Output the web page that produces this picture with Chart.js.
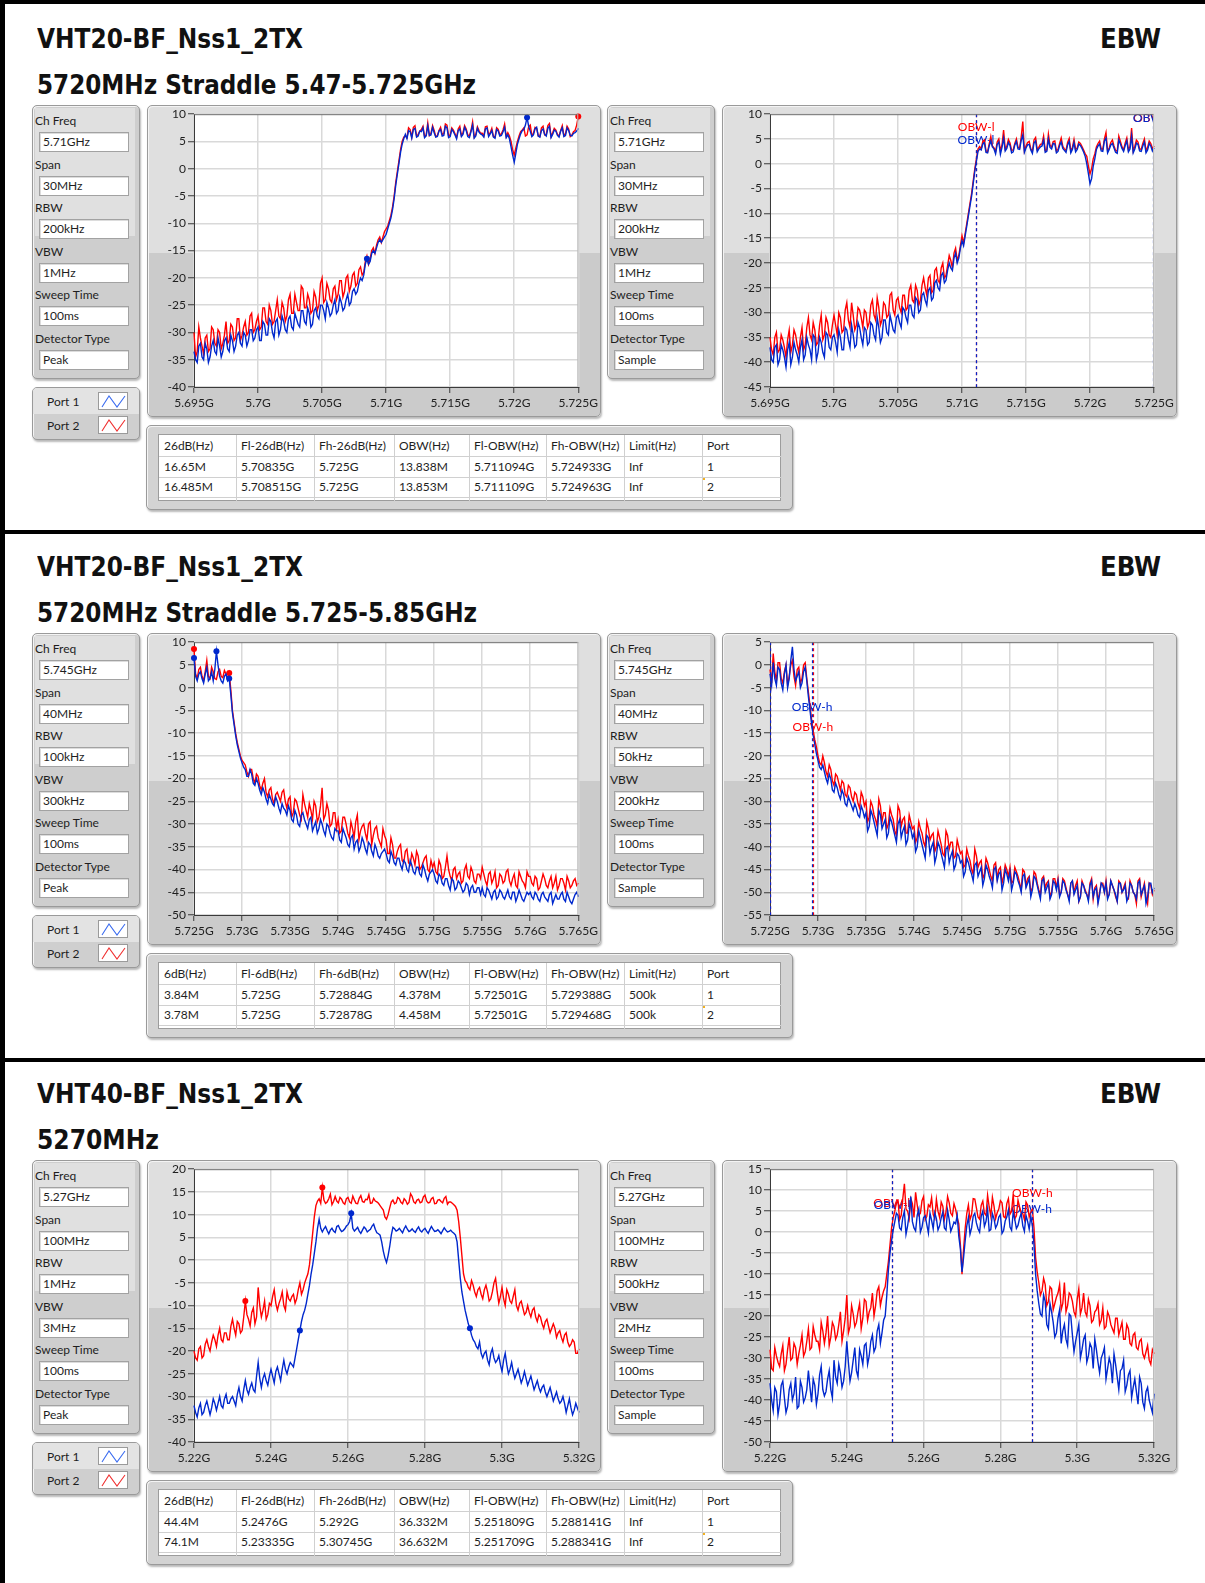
<!DOCTYPE html>
<html>
<head>
<meta charset="utf-8">
<title>EBW</title>
<script src="https://cdn.jsdelivr.net/npm/chart.js@4.4.1/dist/chart.umd.min.js"></script>
<style>
  html, body { margin: 0; padding: 0; background: #fff; }
  body { position: relative; width: 1205px; height: 1583px; overflow: hidden; font-family: Lato, "Liberation Sans", sans-serif; color: #1e1e1e; }
  .bar { position: absolute; background: #000; }
  .ttl { position: absolute; font-family: "DejaVu Sans Condensed", "DejaVu Sans", sans-serif; font-weight: bold; font-size: 27px; line-height: 27px; white-space: nowrap; transform-origin: 0 0; color: #111; }
  .panel { position: absolute; box-sizing: border-box; border: 1px solid #9a9a9a; border-radius: 5px; box-shadow: inset 1px 1px 0 #f4f4f4, 1px 2px 2px rgba(0,0,0,0.28); overflow: hidden; }
  .chartPanel { background: linear-gradient(#dfdfdf 0, #dfdfdf 147px, #cbcbcb 147px, #cbcbcb 100%); }
  .paramPanel { background: #cecece; }
  .lbl { position: absolute; font-size: 12px; line-height: 14px; white-space: nowrap; color: #1e1e1e; }
  .box { position: absolute; box-sizing: border-box; background: #fff; border: 1px solid #a2a2a2; box-shadow: inset 1px 1px 0 #dcdcdc; font-size: 12px; line-height: 18px; padding-left: 3px; white-space: nowrap; }
  .cell { position: absolute; font-size: 12px; line-height: 14px; white-space: nowrap; color: #1e1e1e; }
  .hl { position: absolute; height: 1px; background: #d0d0d0; }
  .vl { position: absolute; width: 1px; background: #d0d0d0; }
  canvas { position: absolute; }
</style>
</head>
<body>
<script>
// ---------- text content ----------
const sectionTitles = ["VHT20-BF_Nss1_2TX", "VHT20-BF_Nss1_2TX", "VHT40-BF_Nss1_2TX"];
const sectionSubtitles = ["5720MHz Straddle 5.47-5.725GHz", "5720MHz Straddle 5.725-5.85GHz", "5270MHz"];
const sectionTag = "EBW";

const paramNames = ["Ch Freq", "Span", "RBW", "VBW", "Sweep Time", "Detector Type"];
// [peak-detector panel, sample-detector panel] for each measurement
const paramValues = [
  [["5.71GHz", "30MHz", "200kHz", "1MHz", "100ms", "Peak"], ["5.71GHz", "30MHz", "200kHz", "1MHz", "100ms", "Sample"]],
  [["5.745GHz", "40MHz", "100kHz", "300kHz", "100ms", "Peak"], ["5.745GHz", "40MHz", "50kHz", "200kHz", "100ms", "Sample"]],
  [["5.27GHz", "100MHz", "1MHz", "3MHz", "100ms", "Peak"], ["5.27GHz", "100MHz", "500kHz", "2MHz", "100ms", "Sample"]]
];
const portNames = ["Port 1", "Port 2"];

const tableHeads = [
  ["26dB(Hz)", "Fl-26dB(Hz)", "Fh-26dB(Hz)", "OBW(Hz)", "Fl-OBW(Hz)", "Fh-OBW(Hz)", "Limit(Hz)", "Port"],
  ["6dB(Hz)", "Fl-6dB(Hz)", "Fh-6dB(Hz)", "OBW(Hz)", "Fl-OBW(Hz)", "Fh-OBW(Hz)", "Limit(Hz)", "Port"],
  ["26dB(Hz)", "Fl-26dB(Hz)", "Fh-26dB(Hz)", "OBW(Hz)", "Fl-OBW(Hz)", "Fh-OBW(Hz)", "Limit(Hz)", "Port"]
];
const tableRows = [
  [["16.65M", "5.70835G", "5.725G", "13.838M", "5.711094G", "5.724933G", "Inf", "1"],
   ["16.485M", "5.708515G", "5.725G", "13.853M", "5.711109G", "5.724963G", "Inf", "2"]],
  [["3.84M", "5.725G", "5.72884G", "4.378M", "5.72501G", "5.729388G", "500k", "1"],
   ["3.78M", "5.725G", "5.72878G", "4.458M", "5.72501G", "5.729468G", "500k", "2"]],
  [["44.4M", "5.2476G", "5.292G", "36.332M", "5.251809G", "5.288141G", "Inf", "1"],
   ["74.1M", "5.23335G", "5.30745G", "36.632M", "5.251709G", "5.288341G", "Inf", "2"]]
];

// ---------- OBW cursors (GHz), [port 1, port 2] ----------
const obwLow  = [[5.711094, 5.711109], [5.72501, 5.72501], [5.251809, 5.251709]];
const obwHigh = [[5.724933, 5.724963], [5.729388, 5.729468], [5.288141, 5.288341]];
// cursor label levels in dB, [port 1, port 2]
const obwLowLabelDb  = [[4.8, 7.4], [6.6, 6.6], [6.5, 7.0]];
const obwHighLabelDb = [[9.2, 9.2], [-9.2, -13.6], [5.6, 9.4]];

// ---------- sweep ranges (GHz) and ticks ----------
const sweepStart = [5.695, 5.725, 5.22];
const sweepStop  = [5.725, 5.765, 5.32];
const xTicks = [
  [5.695, 5.7, 5.705, 5.71, 5.715, 5.72, 5.725],
  [5.725, 5.73, 5.735, 5.74, 5.745, 5.75, 5.755, 5.76, 5.765],
  [5.22, 5.24, 5.26, 5.28, 5.3, 5.32]
];
const yTicksPeak = [
  [-40, -35, -30, -25, -20, -15, -10, -5, 0, 5, 10],
  [-50, -45, -40, -35, -30, -25, -20, -15, -10, -5, 0, 5, 10],
  [-40, -35, -30, -25, -20, -15, -10, -5, 0, 5, 10, 15, 20]
];
const yTicksSample = [
  [-45, -40, -35, -30, -25, -20, -15, -10, -5, 0, 5, 10],
  [-55, -50, -45, -40, -35, -30, -25, -20, -15, -10, -5, 0, 5],
  [-50, -45, -40, -35, -30, -25, -20, -15, -10, -5, 0, 5, 10, 15]
];

// ---------- traces (dBm) ----------
// Each sweep has 241 points: "...Even" holds points 0,2,4..240 and "...Odd" holds 1,3..239.
const sec1PeakP2Even = [-30.0,-33.5,-31.0,-34.0,-30.5,-33.0,-29.5,-32.5,-30.0,-32.0,-28.0,-31.5,-29.0,-31.0,-27.5,-30.5,-28.0,-30.0,-26.5,-29.5,
  -27.0,-29.0,-25.5,-28.5,-26.0,-28.0,-24.0,-27.5,-25.5,-27.0,
  -23.0,-26.5,-24.5,-26.0,-22.0,-25.5,-24.0,-26.0,-23.5,-25.0,
  -20.0,-24.0,-22.0,-24.5,-21.5,-23.0,-20.5,-22.5,-19.5,-21.5,
  -19.0,-21.0,-18.0,-19.0,-16.0,-16.5,-14.5,-14.0,-12.5,-12.5,
  -11.0,-9.5,-7.0,-2.5,1.5,5.0,
  6.0,7.5,5.8,7.9,6.3,7.2,5.9,8.4,6.5,7.0,6.1,7.6,6.4,8.0,6.2,7.1,5.7,7.8,6.6,7.3,6.0,8.6,6.3,7.0,6.5,7.7,6.2,7.4,5.8,7.2,6.4,8.2,6.6,
  5.0,2.5,5.0,6.8,
  7.5,6.2,8.0,6.5,7.4,5.9,7.8,6.3,8.3,6.6,7.1,6.0,7.9,6.4,7.3,6.2,7.0,9.6];
const sec1PeakP2Odd = [-34.5,-29.0,-32.5,-31.0,-33.5,-29.0,-32.0,-29.5,-33.0,-30.5,-32.0,-28.5,-31.5,-27.5,-31.5,-29.0,-30.5,-27.0,-30.0,-28.0,
  -29.5,-25.5,-28.0,-25.0,-28.5,-26.0,-27.0,-24.5,-28.0,-24.0,
  -26.5,-23.0,-26.0,-21.5,-25.5,-23.0,-26.5,-22.5,-26.0,-21.0,
  -24.5,-21.0,-24.0,-22.0,-24.0,-20.5,-23.5,-20.0,-22.5,-19.5,
  -21.5,-18.5,-19.5,-17.0,-17.5,-15.0,-15.5,-13.0,-13.5,-11.5,
  -10.5,-8.5,-5.0,-0.5,3.5,5.8,
  5.7,7.2,7.6,6.0,6.9,7.8,6.2,6.1,7.9,5.9,7.0,6.3,8.2,6.0,7.5,6.4,7.3,6.1,7.9,6.2,7.0,5.8,7.7,6.5,6.0,7.8,6.6,5.9,7.5,6.2,7.1,5.9,6.0,
  3.5,3.8,6.0,7.1,
  6.0,7.7,6.1,7.6,6.0,7.5,6.2,7.9,5.9,7.4,6.3,7.0,6.1,7.8,5.9,6.8,8.0];
const sec1PeakP1Even = [-33.5,-35.5,-32.0,-35.0,-33.0,-34.5,-31.5,-34.0,-32.5,-33.5,-31.0,-33.5,-31.5,-32.5,-30.0,-32.5,-30.5,-31.5,-29.5,-31.0,
  -29.0,-31.5,-28.5,-30.5,-28.0,-31.0,-27.5,-29.5,-28.0,-30.0,
  -27.0,-29.5,-27.5,-29.0,-26.0,-28.5,-26.5,-28.5,-25.5,-27.5,
  -25.0,-27.5,-25.5,-26.5,-24.0,-26.0,-24.5,-25.5,-23.0,-24.5,
  -22.0,-22.5,-20.0,-19.5,-16.5,-17.0,-15.0,-14.5,-13.0,-13.0,
  -12.0,-10.0,-7.5,-3.0,1.0,4.5,
  6.3,7.0,5.6,7.4,6.0,6.8,5.7,7.9,6.2,6.6,5.9,7.2,6.1,7.5,5.9,6.8,5.5,7.3,6.3,7.0,5.7,8.0,6.0,6.7,6.2,7.3,5.9,7.0,5.6,6.9,6.1,7.6,6.2,
  4.0,1.2,4.5,6.4,
  7.2,9.4,6.9,6.2,7.6,5.8,7.3,6.0,7.8,6.3,6.9,5.8,7.5,6.1,7.0,6.0,6.6,7.4];
const sec1PeakP1Odd = [-35.0,-32.5,-34.5,-32.0,-35.5,-32.5,-33.5,-31.0,-34.5,-31.5,-33.0,-30.5,-33.5,-30.5,-32.0,-30.0,-32.5,-29.5,-31.5,-29.5,
  -31.5,-28.0,-30.5,-27.5,-30.0,-28.0,-30.5,-27.0,-29.5,-27.5,
  -29.0,-26.5,-28.5,-26.0,-28.0,-25.5,-29.0,-26.0,-27.0,-25.0,
  -26.0,-24.5,-27.0,-25.0,-26.5,-23.5,-26.0,-24.0,-25.0,-22.5,
  -23.0,-21.0,-20.5,-17.5,-17.5,-15.5,-15.5,-13.5,-13.5,-12.5,
  -11.0,-9.0,-5.5,-1.0,3.0,5.5,
  5.5,6.8,7.2,5.8,6.9,7.5,6.0,6.1,7.6,5.8,6.9,6.0,7.8,5.7,7.2,6.2,7.0,5.9,7.6,5.9,6.8,5.6,7.4,6.4,5.8,7.5,6.4,5.8,7.2,6.0,6.8,5.7,5.5,
  2.5,2.8,5.5,7.0,
  8.0,7.8,5.9,7.3,6.0,7.0,6.3,7.4,5.7,7.1,6.1,6.9,5.9,7.5,6.1,6.5,6.9];
const sec1SampleP2Even = [-35.0,-38.5,-34.0,-37.5,-35.5,-39.0,-33.5,-36.5,-34.5,-38.0,-33.0,-36.5,-31.0,-35.5,-33.5,-36.0,-30.5,-34.5,-32.0,-35.0,
  -30.5,-34.5,-31.0,-33.5,-28.0,-33.0,-30.5,-32.5,-29.5,-33.0,-30.0,-32.0,-27.5,-31.5,-29.0,-31.5,-28.5,-30.5,-26.0,-30.5,
  -27.0,-30.0,-26.5,-29.0,-24.5,-28.0,-25.5,-27.5,-23.0,-26.5,-22.5,-25.5,-21.0,-24.0,-20.0,-22.5,
  -18.5,-21.0,-17.0,-18.5,-14.5,-14.0,-10.0,-6.0,-1.0,3.0,
  3.0,4.8,2.4,5.5,3.2,4.4,2.6,6.8,3.5,4.2,2.8,5.0,3.1,8.5,3.6,4.5,2.5,5.3,3.3,4.0,2.7,6.0,3.4,4.6,2.9,5.2,3.0,4.3,2.6,4.9,3.2,4.1,2.8,
  1.5,-2.0,1.0,3.4,
  4.6,2.9,6.3,3.2,4.8,2.7,5.6,3.4,4.2,2.8,7.2,3.5,4.4,2.9,5.0,3.3,4.1,3.6];
const sec1SampleP2Odd = [-37.5,-35.0,-38.0,-34.5,-37.0,-35.5,-38.0,-33.5,-36.5,-35.0,-37.5,-33.0,-34.5,-32.0,-36.5,-32.5,-35.5,-31.0,-34.5,-32.5,
  -32.5,-30.0,-34.0,-29.5,-31.5,-28.0,-33.5,-29.0,-31.0,-29.5,-33.0,-28.5,-30.5,-27.0,-32.5,-28.0,-31.0,-26.5,-29.5,-27.5,
  -29.0,-26.5,-29.5,-25.5,-27.5,-24.5,-28.5,-24.5,-25.0,-23.0,-26.0,-21.5,-23.5,-21.0,-23.0,-20.5,
  -19.5,-18.0,-19.5,-16.5,-16.0,-12.0,-8.0,-3.5,1.0,3.5,
  4.5,2.6,4.0,3.6,2.5,5.0,3.8,3.0,4.9,2.7,4.1,3.3,5.4,2.6,4.3,3.0,4.8,2.9,3.9,5.6,2.8,3.7,4.5,2.6,4.1,3.5,2.7,5.1,3.3,2.9,4.4,3.5,2.0,
  -0.5,-1.0,2.0,4.1,
  3.0,5.0,2.5,4.3,3.6,2.5,4.5,2.8,5.2,3.5,2.6,4.8,3.0,4.1,2.7,4.6,3.0];
const sec1SampleP1Even = [-37.0,-40.0,-36.5,-39.5,-37.5,-41.0,-36.0,-39.0,-37.5,-40.0,-35.5,-38.5,-36.5,-39.5,-35.0,-38.0,-36.0,-39.0,-34.5,-37.5,
  -34.5,-38.0,-35.0,-37.5,-33.5,-37.0,-34.5,-36.5,-33.0,-36.5,-33.5,-36.0,-32.5,-35.5,-33.0,-35.0,-31.5,-34.5,-32.0,-34.0,
  -30.5,-33.0,-29.5,-32.0,-28.5,-31.0,-27.5,-29.5,-26.0,-28.5,-25.0,-27.0,-23.5,-25.5,-22.0,-23.5,
  -20.0,-21.5,-18.0,-19.0,-15.5,-14.5,-10.5,-6.5,-1.5,2.5,
  2.8,4.2,2.2,4.6,3.0,3.9,1.9,5.2,3.1,3.7,2.4,4.5,2.9,5.8,3.2,3.9,2.1,4.6,3.0,3.6,2.3,5.0,3.0,4.0,2.5,4.4,2.7,3.8,2.2,4.3,2.9,3.7,2.4,
  0.0,-4.0,-0.5,2.9,
  4.0,2.5,5.2,2.9,4.1,2.3,4.8,3.1,3.7,2.4,5.6,3.0,3.9,2.5,4.4,2.8,3.6,3.2];
const sec1SampleP1Odd = [-39.5,-37.0,-40.5,-36.5,-39.0,-37.5,-40.5,-36.0,-38.5,-37.0,-39.5,-35.0,-37.5,-34.5,-39.5,-35.0,-38.0,-34.0,-37.0,-35.0,
  -36.0,-33.5,-37.5,-33.0,-35.5,-32.5,-37.0,-32.0,-35.0,-33.0,-36.5,-32.0,-34.5,-31.0,-36.0,-31.5,-34.0,-30.5,-33.5,-31.0,
  -32.0,-29.0,-31.0,-28.5,-30.5,-27.0,-30.0,-26.5,-27.5,-25.5,-27.5,-24.0,-25.0,-22.5,-24.0,-21.5,
  -21.0,-19.0,-20.0,-17.0,-16.5,-12.5,-8.5,-4.0,0.5,3.0,
  4.0,2.3,3.6,3.4,2.0,4.4,3.3,2.6,4.3,2.2,3.8,3.0,4.7,2.3,3.8,2.8,4.2,2.4,3.4,4.8,2.5,3.3,4.1,2.2,3.7,3.1,2.3,4.5,2.9,2.4,4.0,3.1,1.5,
  -2.0,-3.0,1.0,3.6,
  2.6,4.6,2.2,3.8,3.2,2.1,4.0,2.5,4.6,3.0,2.2,4.2,2.6,3.6,2.2,4.1,2.6];

const sec2PeakP2Even = [8.5,2.0,4.5,1.5,6.0,2.0,3.5,1.8,4.0,2.2,3.0,3.2,
  -5.0,-10.0,-13.5,-16.0,-17.0,-19.5,-18.0,-21.0,-19.5,-22.5,-20.0,-24.0,-22.0,-25.5,-23.0,-25.0,-22.5,-26.5,
  -24.0,-27.5,-25.0,-28.0,-23.5,-27.0,-25.5,-29.0,-26.0,-28.5,-22.0,-28.0,-27.0,-30.0,-27.5,
  -29.0,-31.5,-28.5,-32.0,-29.5,-33.0,-28.0,-31.5,-30.0,-33.5,-29.5,-32.5,-30.5,-34.0,-31.0,
  -33.5,-36.5,-34.5,-37.5,-35.0,-38.0,-36.0,-38.5,-36.5,-39.0,-37.0,-39.5,-37.5,-40.0,-38.0,
  -38.5,-41.0,-39.0,-41.5,-37.0,-41.5,-40.0,-42.0,-40.5,-42.5,-39.0,-42.0,-40.5,-43.0,-41.0,
  -39.5,-42.5,-41.0,-43.0,-40.5,-43.5,-41.5,-42.5,-40.0,-43.5,-41.0,-44.0,-41.5,-43.0,-40.5,
  -41.5,-43.5,-42.0,-44.0,-41.0,-43.5,-42.5,-44.0,-41.5,-43.5,-42.0,-44.5,-42.5,-43.5,-42.0,-43.0];
const sec2PeakP2Odd = [3.0,4.0,2.5,3.5,2.5,4.5,2.0,3.5,2.5,3.8,2.0,-0.5,
  -7.5,-12.0,-15.0,-16.5,-18.5,-18.0,-20.0,-19.0,-21.5,-21.0,-23.0,-22.5,-24.5,-23.5,-24.0,-23.0,-25.0,-24.5,
  -28.5,-24.5,-26.5,-29.0,-25.5,-28.5,-27.0,-25.0,-29.5,-26.0,-29.0,-25.5,-30.5,-27.5,-31.0,
  -32.0,-28.5,-30.0,-33.0,-31.0,-29.5,-33.5,-30.5,-32.0,-30.0,-34.5,-31.0,-33.0,-35.0,-32.5,
  -36.5,-33.0,-37.5,-36.0,-34.5,-38.5,-35.5,-39.0,-37.5,-36.0,-40.0,-38.5,-37.0,-40.5,-39.5,
  -40.5,-38.0,-42.0,-39.5,-40.0,-42.5,-39.5,-41.0,-43.0,-40.0,-41.5,-39.5,-42.5,-41.0,-42.0,
  -41.0,-43.5,-40.5,-42.0,-44.0,-41.0,-43.0,-40.5,-42.5,-42.0,-43.5,-40.5,-42.5,-44.0,-41.5,
  -43.0,-41.5,-44.5,-42.5,-42.0,-44.0,-41.5,-43.0,-44.5,-42.0,-43.0,-41.5,-44.0,-42.5,-43.5];
const sec2PeakP1Even = [6.5,1.5,3.5,1.0,4.5,2.0,1.5,8.0,2.5,1.0,3.0,2.0,
  -5.5,-10.5,-14.0,-16.5,-18.0,-19.5,-19.0,-21.5,-21.0,-23.5,-23.0,-25.5,-24.5,-26.0,-25.0,-27.5,-26.5,-28.0,
  -27.0,-29.5,-28.0,-30.5,-27.5,-30.0,-29.0,-31.5,-29.5,-31.0,-30.0,-32.5,-30.5,-33.0,-31.0,
  -31.5,-34.0,-32.0,-34.5,-33.0,-35.5,-33.5,-35.0,-34.0,-36.5,-34.5,-37.0,-35.5,-37.5,-36.0,
  -36.5,-38.5,-37.0,-39.0,-37.5,-40.0,-38.5,-40.5,-39.0,-41.0,-39.5,-41.5,-40.0,-42.5,-40.5,
  -41.0,-43.0,-41.5,-43.5,-42.0,-44.5,-42.5,-44.0,-43.0,-45.0,-43.0,-45.5,-43.5,-45.0,-44.0,
  -44.0,-46.0,-44.5,-46.5,-44.5,-46.0,-45.0,-46.5,-44.5,-46.5,-45.0,-46.0,-45.5,-47.0,-45.0,
  -45.0,-46.5,-45.5,-47.0,-45.0,-46.5,-45.5,-47.5,-45.5,-46.5,-45.0,-47.0,-46.0,-47.5,-45.5,-46.0];
const sec2PeakP1Odd = [2.5,3.0,2.0,3.0,1.5,3.5,4.0,5.0,1.5,2.5,1.5,-1.5,
  -8.0,-12.5,-15.5,-17.5,-19.5,-18.0,-21.0,-20.0,-22.5,-22.0,-24.5,-23.5,-25.5,-24.0,-26.5,-25.5,-27.0,-26.0,
  -29.0,-27.0,-30.0,-28.0,-29.0,-31.0,-28.5,-30.5,-32.0,-29.0,-31.5,-30.0,-32.0,-33.5,-31.5,
  -33.5,-31.0,-33.0,-35.0,-32.5,-34.0,-36.0,-33.0,-35.5,-34.0,-36.0,-34.5,-37.0,-36.5,-35.5,
  -38.0,-36.0,-38.5,-37.5,-39.0,-38.0,-40.0,-38.0,-40.5,-39.5,-41.0,-39.0,-41.5,-41.0,-40.0,
  -42.5,-41.0,-43.0,-42.0,-43.5,-42.0,-44.5,-42.5,-44.0,-44.5,-43.5,-44.0,-45.0,-44.0,-45.5,
  -45.5,-44.0,-45.5,-45.0,-46.5,-44.5,-46.0,-45.5,-46.0,-45.0,-47.0,-44.5,-46.5,-46.0,-45.5,
  -46.0,-45.0,-46.5,-45.5,-46.0,-47.0,-45.0,-46.5,-46.5,-45.5,-46.5,-45.0,-47.0,-46.5,-45.0];
const sec2SampleP2Even = [-1.0,2.5,-3.5,0.5,-4.0,0.0,-2.5,1.0,-4.5,-0.5,-3.0,0.5,
  -6.0,-12.0,-16.5,-20.0,-22.0,-21.5,-24.5,-23.0,-26.5,-24.5,-27.5,-26.0,-29.0,-27.0,-30.0,-28.5,-31.5,-29.0,
  -30.0,-33.5,-31.0,-34.0,-29.5,-34.5,-32.5,-35.0,-33.0,-36.5,-31.0,-35.5,-33.5,-37.0,-34.5,
  -35.5,-38.0,-36.0,-39.0,-34.5,-38.5,-37.0,-40.0,-38.0,-41.5,-36.5,-40.5,-39.0,-42.0,-40.0,
  -41.0,-44.0,-42.0,-45.0,-40.5,-44.5,-43.0,-46.0,-43.5,-46.5,-44.0,-47.0,-44.5,-46.5,-45.0,
  -44.5,-47.5,-45.5,-48.0,-45.0,-48.5,-46.5,-49.0,-46.0,-49.5,-47.0,-49.0,-47.5,-50.0,-47.0,
  -47.0,-50.0,-47.5,-50.5,-48.0,-50.0,-47.5,-51.0,-48.5,-50.5,-48.0,-51.5,-48.5,-50.0,-48.0,
  -47.5,-50.5,-48.5,-51.0,-47.5,-50.0,-48.0,-51.5,-48.5,-50.5,-47.5,-51.0,-48.0,-52.5,-48.5,-49.5];
const sec2SampleP2Odd = [-4.0,-1.5,0.5,-3.0,-1.5,-4.5,0.0,-2.5,-1.0,-4.0,0.0,-3.0,
  -9.0,-14.5,-18.0,-21.5,-20.0,-23.5,-22.0,-25.5,-24.0,-26.0,-25.5,-28.5,-26.5,-29.0,-28.0,-30.5,-28.0,-31.0,
  -34.5,-30.0,-33.0,-35.5,-31.0,-32.5,-36.0,-31.5,-34.0,-37.5,-32.0,-34.0,-37.0,-33.0,-36.0,
  -39.0,-34.5,-37.0,-40.0,-36.0,-37.5,-41.0,-36.5,-39.5,-42.0,-37.5,-39.0,-42.5,-38.5,-41.5,
  -44.5,-40.5,-43.0,-46.0,-42.0,-43.5,-47.0,-42.5,-45.0,-47.5,-43.5,-45.0,-48.0,-44.0,-46.5,
  -48.0,-44.5,-46.5,-49.5,-45.5,-47.0,-50.0,-45.5,-48.0,-50.5,-46.5,-48.0,-51.0,-47.0,-49.0,
  -50.5,-47.0,-49.0,-51.5,-47.5,-48.5,-52.0,-47.5,-49.5,-51.5,-47.0,-49.0,-52.0,-48.0,-50.0,
  -51.0,-47.5,-49.5,-52.0,-48.0,-49.0,-51.5,-47.5,-50.0,-52.5,-47.0,-49.5,-51.0,-48.0,-50.5];
const sec2SampleP1Even = [-2.0,0.5,-4.5,-1.0,-5.5,0.0,-3.0,4.0,-3.5,-1.5,-4.0,-0.5,
  -7.0,-13.0,-17.5,-21.0,-23.0,-23.5,-26.0,-25.0,-28.0,-27.0,-29.5,-28.5,-31.0,-30.0,-32.0,-31.5,-33.5,-32.0,
  -32.5,-35.5,-33.0,-36.0,-32.0,-36.0,-34.0,-37.0,-34.5,-37.5,-35.0,-38.0,-35.5,-38.5,-36.0,
  -37.0,-40.0,-38.0,-41.0,-37.5,-41.5,-39.0,-42.0,-40.0,-43.0,-40.5,-43.5,-41.0,-44.0,-42.0,
  -43.0,-45.5,-43.5,-46.0,-44.0,-46.5,-44.5,-47.0,-45.0,-47.5,-45.0,-47.5,-45.5,-48.0,-46.0,
  -45.5,-48.0,-46.0,-48.5,-46.5,-49.0,-47.0,-49.5,-47.0,-50.0,-47.5,-50.0,-48.0,-50.5,-48.0,
  -47.5,-50.0,-48.0,-50.5,-48.0,-50.5,-48.5,-51.0,-48.5,-50.5,-48.5,-51.0,-49.0,-50.5,-48.5,
  -48.0,-50.5,-48.5,-50.5,-48.0,-50.0,-48.5,-51.0,-48.5,-50.5,-48.0,-50.5,-48.5,-51.0,-48.0,-49.0];
const sec2SampleP1Odd = [-4.5,-3.0,-0.5,-4.0,-2.0,-5.0,1.0,-1.0,-2.5,-5.0,-1.5,-3.5,
  -10.0,-15.5,-19.5,-22.5,-22.0,-25.0,-24.0,-27.5,-26.0,-28.5,-27.5,-30.5,-29.0,-31.0,-30.5,-33.0,-31.0,-33.5,
  -36.5,-32.0,-34.5,-37.5,-33.0,-35.0,-38.0,-33.5,-36.0,-39.0,-34.0,-36.5,-39.5,-35.0,-38.0,
  -41.0,-36.5,-39.5,-42.5,-38.0,-40.0,-43.5,-39.0,-41.5,-44.5,-40.0,-42.0,-45.0,-41.5,-43.5,
  -46.5,-42.5,-45.0,-47.5,-43.5,-45.5,-48.5,-44.0,-46.5,-49.0,-44.5,-46.0,-49.5,-45.0,-47.5,
  -49.5,-45.5,-47.5,-50.0,-46.0,-48.0,-51.0,-46.5,-48.5,-51.5,-47.0,-49.0,-51.5,-47.5,-49.5,
  -51.0,-47.5,-49.5,-52.0,-47.5,-49.5,-52.0,-48.0,-50.0,-52.0,-47.5,-49.5,-52.5,-48.0,-50.0,
  -51.5,-47.5,-49.5,-52.0,-48.0,-49.5,-52.0,-48.0,-50.0,-51.5,-47.5,-49.5,-52.5,-48.0,-50.0];

const sec3PeakP2Even = [-20.0,-22.0,-19.0,-21.0,-17.5,-20.0,-16.5,-19.0,-15.0,-18.0,-16.0,-17.5,
  -13.0,-16.5,-14.0,-15.5,-9.0,-13.0,-11.5,-14.0,-6.0,-12.5,-9.0,-12.0,
  -10.0,-6.5,-11.0,-8.5,-10.0,-7.0,-9.0,-7.5,-8.5,-5.0,-6.5,-4.0,
  -1.0,6.0,12.0,13.5,
  16.0,12.5,13.5,12.2,14.0,12.6,13.4,12.3,13.8,12.5,13.2,12.4,14.2,12.7,13.3,12.5,13.6,12.8,12.0,11.0,
  9.0,11.5,13.2,12.6,13.5,12.4,13.1,12.7,14.0,12.5,13.4,12.8,14.3,12.6,13.5,12.4,13.2,12.9,13.6,12.3,12.8,12.2,11.0,
  5.0,-3.0,-5.0,-6.5,-5.5,-8.0,-6.0,-8.5,-5.5,-9.0,-7.0,-4.0,-9.5,-6.0,-10.0,-7.5,-9.5,-6.5,-11.0,-9.0,
  -12.0,-10.0,-12.5,-10.5,-13.5,-12.5,-15.0,-13.0,-16.0,-14.0,-17.0,-15.5,-18.0,-16.0,-19.0,-17.5,-20.5,-19.5];
const sec3PeakP2Odd = [-21.5,-19.5,-21.5,-18.5,-19.0,-18.0,-17.5,-16.5,-17.5,-16.0,-17.5,-14.5,
  -15.0,-13.5,-16.0,-12.5,-12.0,-14.5,-10.5,-12.5,-10.0,-11.0,-13.0,-9.5,
  -8.0,-9.5,-9.5,-7.0,-11.0,-8.5,-8.0,-9.5,-6.5,-7.5,-5.0,-3.0,
  2.5,9.5,13.0,12.5,
  13.2,12.8,14.5,12.9,13.0,13.8,12.6,13.5,12.8,14.1,12.5,13.6,12.9,13.4,14.4,12.6,13.0,12.5,11.5,9.5,
  10.0,12.8,12.4,13.8,12.7,13.5,12.3,14.6,12.8,13.2,12.6,13.9,13.0,12.7,13.8,12.5,13.3,12.6,14.0,12.8,12.5,11.8,8.5,
  1.0,-4.5,-6.0,-4.5,-7.0,-6.5,-7.5,-6.5,-7.0,-8.5,-5.0,-7.0,-8.0,-8.5,-6.5,-9.0,-8.0,-10.0,-9.5,-10.5,
  -11.5,-11.5,-11.0,-12.5,-12.0,-14.0,-13.5,-14.5,-15.0,-15.0,-16.0,-17.0,-16.5,-18.0,-18.5,-18.0,-20.5];
const sec3PeakP1Even = [-32.0,-34.5,-31.5,-33.5,-31.0,-34.0,-30.5,-33.0,-30.0,-32.5,-29.5,-31.5,
  -30.0,-32.0,-28.0,-31.0,-26.5,-29.5,-27.0,-29.0,-22.5,-28.0,-25.0,-27.5,
  -24.0,-27.0,-23.5,-26.5,-22.0,-25.0,-22.5,-23.5,-19.5,-15.5,-12.0,-9.5,
  -5.5,-1.0,4.0,9.0,
  6.2,7.4,5.8,7.0,6.1,7.6,6.3,6.9,7.8,10.3,6.4,7.2,5.9,7.3,6.2,6.8,7.9,6.0,5.5,2.0,
  -0.5,3.0,7.2,6.4,7.0,6.0,7.5,6.3,6.9,6.1,7.3,6.2,7.0,5.9,7.4,6.3,6.7,5.8,7.1,6.2,6.6,5.9,4.0,
  -4.0,-9.0,-12.5,-15.0,-17.5,-19.0,-18.0,-21.5,-20.0,-23.0,-19.5,-22.5,-21.0,-24.5,-20.5,-25.0,-22.5,-26.0,-24.0,-27.0,
  -24.5,-27.5,-25.5,-28.5,-26.5,-29.0,-27.5,-30.0,-28.0,-31.0,-29.0,-31.5,-30.0,-33.5,-30.5,-34.0,-31.5,-33.5];
const sec3PeakP1Odd = [-33.5,-32.5,-34.0,-32.0,-32.5,-32.5,-31.5,-31.5,-32.0,-30.5,-31.5,-30.5,
  -31.0,-29.5,-30.0,-28.5,-28.5,-28.0,-28.5,-25.5,-26.0,-26.0,-26.5,-25.5,
  -25.5,-24.5,-25.0,-24.0,-24.0,-23.5,-23.0,-21.5,-17.5,-13.5,-11.0,-7.5,
  -3.0,1.5,7.0,7.0,
  6.9,6.5,6.6,6.4,7.4,6.8,6.5,7.5,8.5,7.0,6.8,6.4,6.6,6.9,6.5,7.5,6.8,5.8,4.0,0.5,
  1.0,5.5,6.9,6.6,6.5,6.9,6.8,6.5,6.4,6.8,6.5,6.7,6.4,6.7,6.8,6.4,6.3,6.5,6.6,6.3,6.2,5.5,0.0,
  -7.0,-11.0,-14.0,-16.5,-18.0,-19.5,-20.5,-20.5,-22.0,-20.5,-21.5,-22.0,-23.0,-22.0,-23.0,-24.0,-24.5,-25.0,-25.5,-26.0,
  -26.0,-26.5,-27.0,-27.5,-28.0,-28.0,-29.0,-29.0,-29.5,-30.0,-30.5,-31.0,-31.5,-32.0,-32.5,-33.0,-32.5];
const sec3SampleP2Even = [-28.0,-33.0,-29.5,-32.0,-27.0,-31.5,-25.0,-30.0,-27.5,-29.0,-24.5,-28.5,
  -23.0,-27.5,-24.5,-26.0,-21.5,-26.5,-20.0,-25.0,-22.5,-24.5,-19.0,-23.5,
  -15.0,-22.5,-19.5,-21.5,-17.0,-20.5,-16.5,-19.0,-14.5,-17.5,-13.0,-15.5,
  -13.0,-7.0,1.0,5.0,
  7.5,4.0,11.5,5.0,8.0,3.5,6.5,4.5,8.5,3.8,6.0,4.2,7.8,3.5,6.2,4.8,7.0,3.9,5.5,2.0,
  -10.0,1.0,6.5,4.2,7.9,3.6,6.4,4.5,8.8,3.8,6.2,4.6,7.5,3.7,6.8,4.3,9.0,3.9,6.0,4.4,7.2,3.6,5.5,
  -6.0,-12.0,-14.0,-12.5,-16.5,-13.5,-17.0,-14.5,-18.5,-12.0,-17.5,-15.0,-19.0,-16.0,-19.5,-14.5,-20.0,-17.5,-21.0,-18.5,
  -22.0,-18.0,-22.5,-20.0,-23.0,-20.5,-24.5,-21.5,-25.5,-23.0,-27.0,-24.0,-28.0,-25.5,-30.0,-27.0,-31.5,-29.0];
const sec3SampleP2Odd = [-32.5,-27.5,-31.0,-29.0,-33.0,-28.0,-30.5,-26.5,-31.5,-27.0,-29.5,-26.0,
  -28.0,-22.5,-26.0,-28.0,-23.5,-24.0,-27.0,-21.5,-25.5,-22.0,-26.0,-20.5,
  -24.0,-17.5,-22.5,-19.0,-23.0,-16.0,-21.0,-18.0,-20.0,-14.0,-17.5,-14.0,
  -10.0,-3.0,3.5,7.0,
  3.0,8.0,5.5,3.2,6.8,9.5,4.0,7.5,3.0,6.5,8.2,3.3,5.0,7.2,3.0,8.5,4.5,6.8,3.5,-3.0,
  -4.0,4.5,3.0,8.0,5.8,3.1,7.4,4.0,6.0,8.3,3.2,5.5,7.0,3.4,8.0,5.0,3.2,7.6,4.6,3.0,6.5,4.8,1.0,
  -9.5,-15.0,-11.0,-17.5,-13.0,-18.5,-15.5,-12.5,-17.0,-19.0,-14.5,-16.5,-20.0,-13.5,-18.0,-19.0,-16.0,-21.5,-19.0,-17.0,
  -21.0,-23.0,-19.0,-22.0,-24.0,-20.5,-23.0,-25.5,-22.0,-26.5,-24.5,-27.5,-26.0,-29.0,-28.5,-30.5,-28.0];
const sec3SampleP1Even = [-36.0,-42.5,-38.0,-41.0,-35.5,-43.0,-37.5,-40.0,-34.5,-41.5,-37.0,-39.5,
  -33.0,-40.5,-36.5,-38.5,-32.0,-39.0,-35.0,-37.5,-30.5,-36.0,-33.5,-35.5,
  -26.0,-35.5,-30.5,-33.0,-28.0,-31.5,-26.5,-29.5,-24.5,-27.5,-22.0,-24.0,
  -20.0,-9.0,-2.0,2.5,
  4.0,0.5,5.0,1.5,8.5,1.0,4.0,0.0,3.5,1.8,4.5,0.8,3.2,1.5,4.8,0.5,3.0,1.2,2.0,-1.0,
  -9.5,-2.0,3.5,1.0,4.5,0.8,3.8,1.4,5.5,0.6,3.2,1.8,4.2,0.4,3.6,1.2,4.8,0.9,3.3,1.5,4.0,0.7,1.5,
  -10.0,-17.0,-20.0,-16.5,-23.0,-19.0,-25.0,-20.5,-26.5,-22.0,-27.0,-20.0,-28.5,-24.0,-30.0,-25.5,-31.0,-26.5,-32.5,-28.0,
  -33.5,-29.0,-35.0,-30.0,-36.0,-31.5,-37.5,-32.5,-38.0,-34.0,-39.5,-35.0,-41.0,-36.0,-42.0,-37.0,-41.5,-38.5];
const sec3SampleP1Odd = [-40.0,-37.0,-43.5,-36.5,-39.5,-41.5,-36.0,-38.5,-42.0,-35.5,-40.5,-37.5,
  -37.0,-35.0,-41.0,-34.0,-37.5,-38.0,-33.0,-39.5,-34.5,-31.5,-37.0,-32.0,
  -31.0,-33.5,-27.5,-34.5,-29.5,-27.0,-31.5,-26.0,-28.5,-23.5,-26.5,-21.0,
  -15.0,-5.0,0.5,4.5,
  1.0,3.5,-0.5,4.2,2.5,0.3,5.5,1.2,3.9,-0.2,2.8,4.6,0.5,3.4,1.0,5.2,0.2,2.4,4.0,-4.0,
  -6.0,1.5,-0.5,3.8,2.2,0.0,5.0,2.6,0.3,4.4,1.0,3.6,-0.3,2.7,5.3,0.4,3.0,1.6,4.5,0.2,2.6,3.8,-3.0,
  -14.0,-19.5,-15.0,-22.0,-17.0,-21.5,-24.0,-18.5,-23.5,-25.5,-19.5,-24.5,-26.0,-22.0,-28.0,-24.5,-29.5,-27.5,-25.5,-31.0,
  -30.0,-27.5,-32.5,-31.5,-29.0,-34.5,-33.0,-30.5,-36.5,-33.0,-37.0,-38.0,-34.5,-40.5,-38.0,-40.0,-43.0];

// peak markers: indices into the "...Even" arrays
const sec1PeakP1Marks = [54, 104], sec1PeakP2Marks = [120];
const sec2PeakP1Marks = [0, 7, 11], sec2PeakP2Marks = [0, 11];
const sec3PeakP1Marks = [33, 49, 86], sec3PeakP2Marks = [16, 40];

// interleave the two halves of a sweep into sweep order
function sweep(even, odd) {
  const out = [];
  even.forEach((v, i) => { out.push(v); if (i < even.length - 1 && i < odd.length) out.push(odd[i]); });
  return out;
}
const peakTraces = [
  [sweep(sec1PeakP1Even, sec1PeakP1Odd), sweep(sec1PeakP2Even, sec1PeakP2Odd)],
  [sweep(sec2PeakP1Even, sec2PeakP1Odd), sweep(sec2PeakP2Even, sec2PeakP2Odd)],
  [sweep(sec3PeakP1Even, sec3PeakP1Odd), sweep(sec3PeakP2Even, sec3PeakP2Odd)]
];
const peakMarks = [
  [sec1PeakP1Marks, sec1PeakP2Marks], [sec2PeakP1Marks, sec2PeakP2Marks], [sec3PeakP1Marks, sec3PeakP2Marks]
].map(pair => pair.map(list => list.map(i => i * 2)));
const sampleTraces = [
  [sweep(sec1SampleP1Even, sec1SampleP1Odd), sweep(sec1SampleP2Even, sec1SampleP2Odd)],
  [sweep(sec2SampleP1Even, sec2SampleP1Odd), sweep(sec2SampleP2Even, sec2SampleP2Odd)],
  [sweep(sec3SampleP1Even, sec3SampleP1Odd), sweep(sec3SampleP2Even, sec3SampleP2Odd)]
];

// ---------- styling ----------
const BLUE = 'rgb(0,40,205)';
const RED = 'rgb(255,0,0)';
const LEGEND_BLUE = '#3b6cf0';
const LEGEND_RED = '#f03030';
const SECTION_Y = [0, 528, 1055];

function el(tag, cls, css, text) {
  const e = document.createElement(tag);
  if (cls) e.className = cls;
  if (css) e.style.cssText = css;
  if (text !== undefined) e.textContent = text;
  return e;
}
function add(parent, e) { parent.appendChild(e); return e; }

// page frame
add(document.body, el('div', 'bar', 'left:0;top:0;width:5px;height:1583px'));
add(document.body, el('div', 'bar', 'left:0;top:0;width:1205px;height:4px'));
add(document.body, el('div', 'bar', 'left:0;top:530px;width:1205px;height:4px'));
add(document.body, el('div', 'bar', 'left:0;top:1058px;width:1205px;height:4px'));

const fitQueue = [];
function heading(text, x, y, w) {
  const t = add(document.body, el('div', 'ttl', `left:${x}px;top:${y}px`, text));
  fitQueue.push([t, w]);
}

function paramPanel(x, y, values) {
  const p = add(document.body, el('div', 'panel paramPanel', `left:${x}px;top:${y}px;width:108px;height:274px`));
  add(p, el('div', '', 'position:absolute;left:2px;top:2px;width:100px;height:128px;background:#e0e0e0'));
  paramNames.forEach((n, k) => {
    add(p, el('div', 'lbl', `left:2px;top:${8 + k * 43.5}px`, n));
    add(p, el('div', 'box', `left:6px;top:${26 + k * 43.6}px;width:90px;height:20px`, values[k]));
  });
}

function legendPanel(x, y) {
  const p = add(document.body, el('div', 'panel', `left:${x}px;top:${y}px;width:108px;height:53px;background:#cfcfcf`));
  add(p, el('div', '', 'position:absolute;left:0;top:0;width:108px;height:26px;background:#e3e3e3'));
  [LEGEND_BLUE, LEGEND_RED].forEach((c, k) => {
    add(p, el('div', 'lbl', `left:14px;top:${7 + k * 24}px`, portNames[k]));
    const sw = add(p, el('div', '', `position:absolute;left:65px;top:${4 + k * 24}px;width:30px;height:18px;box-sizing:border-box;background:#fff;border:1px solid #9a9a9a`));
    sw.innerHTML = `<svg width="28" height="16" style="position:absolute;left:0;top:0"><polyline points="3,14 10,3 18,14 26,3" fill="none" stroke="${c}" stroke-width="1.1"/></svg>`;
  });
}

function tablePanel(x, y, head, rows) {
  const p = add(document.body, el('div', 'panel', `left:${x}px;top:${y}px;width:647px;height:85px;background:#d3d3d3`));
  const t = add(p, el('div', '', 'position:absolute;left:11px;top:8px;width:623px;height:67px;box-sizing:border-box;background:#fff;border:1px solid #9c9c9c'));
  const cols = [0, 77, 155, 235, 310, 387, 465, 543];
  cols.slice(1).forEach(cx => add(t, el('div', 'vl', `left:${cx}px;top:0;height:67px`)));
  [21, 42, 62].forEach(ry => add(t, el('div', 'hl', `left:0;top:${ry}px;width:623px`)));
  const lines = [head].concat(rows);
  const centers = [11, 32, 52];
  lines.forEach((r, ri) => r.forEach((txt, ci) => {
    add(t, el('div', 'cell', `left:${cols[ci] + 5}px;top:${centers[ri] - 7}px`, txt));
  }));
  add(t, el('div', '', 'position:absolute;left:544px;top:43px;width:2px;height:2px;background:#f0b020'));
}

function fmtGHz(v) { return parseFloat(v.toFixed(4)) + 'G'; }

function spectrumChart(box, spec) {
  add(document.body, el('div', 'panel chartPanel', `left:${box.x}px;top:${box.y}px;width:${box.w}px;height:${box.h}px`));
  const cv = add(document.body, el('canvas', '', `left:${box.x}px;top:${box.y}px;width:${box.w}px;height:${box.h}px`));
  cv.width = box.w; cv.height = box.h;

  const toPoints = arr => arr.map((v, i) => ({ x: spec.f0 + (spec.f1 - spec.f0) * i / (arr.length - 1), y: v }));
  const marked = list => c => (list && list.includes(c.dataIndex)) ? 3 : 0;

  const decor = {
    id: 'decor',
    beforeDraw(chart) {
      const { ctx, chartArea: a } = chart;
      ctx.save();
      ctx.fillStyle = '#fff';
      ctx.fillRect(a.left, a.top, a.right - a.left, a.bottom - a.top);
      ctx.restore();
    },
    beforeDatasetsDraw(chart) {
      if (!spec.cursors) return;
      const { ctx, chartArea: a, scales } = chart;
      ctx.save();
      ctx.beginPath(); ctx.rect(a.left, a.top, a.right - a.left, a.bottom - a.top); ctx.clip();
      ctx.font = '12px Lato'; ctx.textAlign = 'center'; ctx.textBaseline = 'middle';
      spec.cursors.labels.forEach(l => {
        ctx.fillStyle = l.color;
        ctx.fillText(l.text, scales.x.getPixelForValue(l.x), scales.y.getPixelForValue(l.y));
      });
      ctx.restore();
    },
    afterDatasetsDraw(chart) {
      if (!spec.cursors) return;
      const { ctx, chartArea: a, scales } = chart;
      ctx.save();
      ctx.beginPath(); ctx.rect(a.left, a.top, a.right - a.left, a.bottom - a.top); ctx.clip();
      ctx.lineWidth = 1.2; ctx.setLineDash([3, 3]);
      spec.cursors.lines.forEach(l => {
        const px = Math.round(scales.x.getPixelForValue(l.x)) + 0.5;
        ctx.strokeStyle = l.color;
        ctx.beginPath(); ctx.moveTo(px, a.top); ctx.lineTo(px, a.bottom); ctx.stroke();
      });
      ctx.restore();
    },
    afterDraw(chart) {
      const { ctx, chartArea: a } = chart;
      ctx.save();
      ctx.lineWidth = 1;
      ctx.strokeStyle = '#6e6e6e';
      ctx.beginPath(); ctx.moveTo(a.left, a.top + 0.5); ctx.lineTo(a.right, a.top + 0.5); ctx.stroke();
      ctx.strokeStyle = '#bcbcbc';
      ctx.beginPath(); ctx.moveTo(a.right - 0.5, a.top); ctx.lineTo(a.right - 0.5, a.bottom); ctx.stroke();
      ctx.restore();
    }
  };

  const traceStyle = (color, marks) => ({
    borderColor: color, backgroundColor: color, borderWidth: 1.4,
    pointRadius: marked(marks), pointHoverRadius: 0, pointBorderWidth: 0,
    pointBackgroundColor: color, fill: false, tension: 0, clip: 4
  });

  new Chart(cv, {
    type: 'line',
    data: {
      datasets: [
        Object.assign({ label: portNames[0], data: toPoints(spec.p1) }, traceStyle(BLUE, spec.m1)),
        Object.assign({ label: portNames[1], data: toPoints(spec.p2) }, traceStyle(RED, spec.m2))
      ]
    },
    options: {
      responsive: false, animation: false, parsing: false, normalized: true, events: [],
      layout: { autoPadding: false, padding: { top: 9, right: box.rp, left: 0, bottom: 0 } },
      plugins: { legend: { display: false }, tooltip: { enabled: false } },
      scales: {
        x: {
          type: 'linear', min: spec.f0, max: spec.f1,
          afterBuildTicks: s => { s.ticks = spec.xt.map(v => ({ value: v })); },
          afterFit: s => { s.height = box.h - 9 - 273; },
          ticks: { callback: v => fmtGHz(v), font: { family: 'Lato', size: 12 }, color: '#1e1e1e', padding: 3, maxRotation: 0, autoSkip: false },
          grid: { color: '#d9d9d9', lineWidth: 1.5, tickLength: 6, tickColor: '#3a3a3a', tickWidth: 1 },
          border: { color: '#3a3a3a', width: 1 }
        },
        y: {
          type: 'linear', min: spec.yt[0], max: spec.yt[spec.yt.length - 1],
          afterBuildTicks: s => { s.ticks = spec.yt.map(v => ({ value: v })); },
          afterFit: s => { s.width = box.lw; },
          ticks: { callback: v => String(v), font: { family: 'Lato', size: 12 }, color: '#1e1e1e', padding: 2, autoSkip: false },
          grid: { color: '#d9d9d9', lineWidth: 1.5, tickLength: 6, tickColor: '#3a3a3a', tickWidth: 1 },
          border: { color: '#3a3a3a', width: 1 }
        }
      }
    },
    plugins: [decor]
  });
}

function cursorSet(s) {
  const lines = [], labels = [];
  [1, 0].forEach(k => {            // port 2 (red) beneath port 1 (blue)
    const c = k === 0 ? BLUE : RED;
    lines.push({ x: obwLow[s][k], color: c }, { x: obwHigh[s][k], color: c });
    labels.push({ x: obwLow[s][k], y: obwLowLabelDb[s][k], text: 'OBW-l', color: c },
                { x: obwHigh[s][k], y: obwHighLabelDb[s][k], text: 'OBW-h', color: c });
  });
  return { lines, labels };
}

const subtitleWidths = [439, 440, 122];
SECTION_Y.forEach((dy, s) => {
  heading(sectionTitles[s], 37, 25 + dy, 266);
  heading(sectionSubtitles[s], 37, 70.5 + dy, subtitleWidths[s]);
  heading(sectionTag, 1100, 25 + dy, 61);

  paramPanel(32, 105 + dy, paramValues[s][0]);
  paramPanel(607, 105 + dy, paramValues[s][1]);
  legendPanel(32, 387 + dy);

  spectrumChart({ x: 147, y: 105 + dy, w: 454, h: 312, lw: 47, rp: 22 }, {
    f0: sweepStart[s], f1: sweepStop[s], xt: xTicks[s], yt: yTicksPeak[s],
    p1: peakTraces[s][0], p2: peakTraces[s][1], m1: peakMarks[s][0], m2: peakMarks[s][1]
  });
  spectrumChart({ x: 722, y: 105 + dy, w: 455, h: 312, lw: 48, rp: 23 }, {
    f0: sweepStart[s], f1: sweepStop[s], xt: xTicks[s], yt: yTicksSample[s],
    p1: sampleTraces[s][0], p2: sampleTraces[s][1], cursors: cursorSet(s)
  });

  tablePanel(146, 425 + dy, tableHeads[s], tableRows[s]);
});

fitQueue.forEach(([t, w]) => {
  const actual = t.getBoundingClientRect().width;
  if (actual > 0) t.style.transform = `scaleX(${w / actual})`;
});
</script>
</body>
</html>
